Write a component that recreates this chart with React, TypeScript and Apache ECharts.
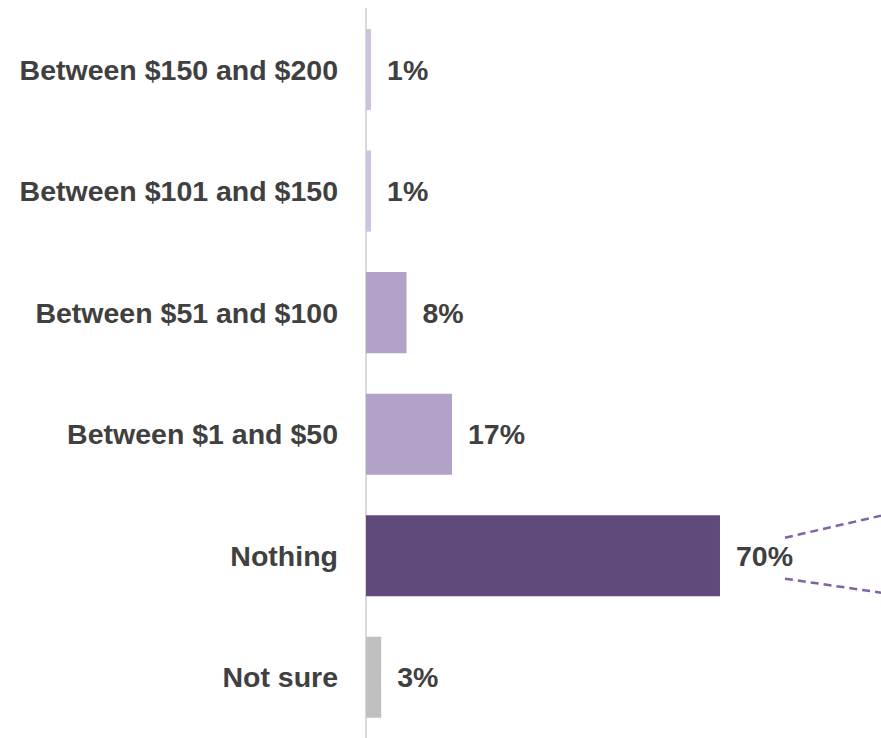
import React, { useEffect, useRef } from "react";
import * as echarts from "echarts";

const categories = [
  "Between $150 and $200",
  "Between $101 and $150",
  "Between $51 and $100",
  "Between $1 and $50",
  "Nothing",
  "Not sure",
];
const values = [1, 1, 8, 17, 70, 3];
const barColors = ["#cdc3e0", "#cdc3e0", "#b3a2c8", "#b3a2c8", "#604a7b", "#c0c0c0"];
const highlightIndex = 4;

export default function App() {
  const ref = useRef<HTMLDivElement>(null);
  useEffect(() => {
    document.body.style.margin = "0";
    const chart = echarts.init(ref.current!, null, { renderer: "svg" });
    const font = "'Liberation Sans', Arial, sans-serif";
    chart.setOption({
      animation: false,
      grid: { left: 366, top: 8.8, width: 505.7, height: 734.4, containLabel: false },
      xAxis: {
        type: "value",
        min: 0,
        max: 100,
        show: false,
      },
      yAxis: {
        type: "category",
        data: categories,
        inverse: true,
        axisLine: { show: true, lineStyle: { color: "#d9d9d9", width: 2 } },
        axisTick: { show: false },
        splitLine: { show: false },
        axisLabel: {
          margin: 28,
          fontSize: 28.5,
          fontWeight: "bold",
          color: "#404040",
          fontFamily: font,
        },
      },
      series: [
        {
          type: "bar",
          barCategoryGap: "33.3%",
          data: values.map((v, i) => ({ value: v, itemStyle: { color: barColors[i] } })),
          label: {
            show: true,
            position: "right",
            distance: 16,
            formatter: "{c}%",
            fontSize: 28.5,
            fontWeight: "bold",
            color: "#404040",
            fontFamily: font,
          },
        },
      ],
    });
    const p = chart.convertToPixel({ gridIndex: 0 }, [values[highlightIndex], categories[highlightIndex]]) as number[];
    const x0 = p[0] + 65;
    const yc = p[1];
    const lineStyle = { stroke: "#8064a2", lineWidth: 2.5, lineDash: [8, 5] };
    chart.setOption({
      graphic: [
        { type: "line", shape: { x1: x0, y1: yc - 18, x2: 881, y2: yc - 40 }, style: lineStyle },
        { type: "line", shape: { x1: x0, y1: yc + 23, x2: 881, y2: yc + 37 }, style: lineStyle },
      ],
    });
    return () => chart.dispose();
  }, []);
  return <div ref={ref} style={{ width: 881, height: 738 }} />;
}
